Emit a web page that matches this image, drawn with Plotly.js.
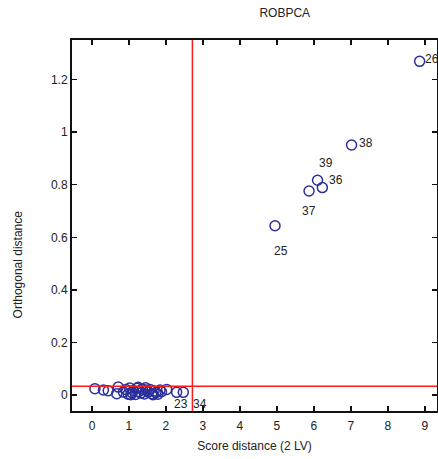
<!DOCTYPE html>
<html>
<head>
<meta charset="utf-8">
<script src="https://cdn.plot.ly/plotly-3.0.1.min.js"></script>
<style>html,body{margin:0;padding:0;background:#fff;}#chart{width:438px;height:459px;}</style>
</head>
<body>
<div id="chart"></div>
<script>
// Score distance (x) and orthogonal distance (y) for each sample
const scoreDist = [0.08, 0.31, 0.44, 0.71, 0.67, 0.85, 0.92, 0.98, 1.02, 1.08, 1.12, 1.18, 1.22, 1.27, 1.32, 1.36, 1.42, 1.47, 1.52, 1.57, 1.62, 1.68, 1.73, 1.78, 1.84, 1.88, 2.02, 1.05, 1.25, 1.45, 1.65, 2.29, 2.47, 4.95, 5.87, 6.23, 6.10, 7.02, 8.86];
const orthDist  = [0.025, 0.020, 0.017, 0.031, 0.006, 0.012, 0.022, 0.004, 0.027, 0.010, 0.018, 0.003, 0.026, 0.014, 0.008, 0.024, 0.005, 0.019, 0.012, 0.022, 0.006, 0.016, 0.010, 0.004, 0.020, 0.013, 0.022, 0.002, 0.030, 0.028, 0.002, 0.011, 0.011, 0.644, 0.776, 0.789, 0.817, 0.951, 1.269];
// Labelled outliers
const labelText = ['23', '34', '25', '37', '36', '39', '38', '26'];
const labelX    = [2.29, 2.47, 4.95, 5.87, 6.23, 6.10, 7.02, 8.86];
const labelY    = [0.011, 0.011, 0.644, 0.776, 0.789, 0.817, 0.951, 1.269];
const labelDx   = [4, 17, 6, 0, 14, 8, 14, 12];
const labelDy   = [-12, -12, -25, -20, 8, 17, 2, 2];
// Cut-off values
const cutoffSD = 2.716;
const cutoffOD = 0.034;

const fontFam = '"Liberation Sans", Arial, Helvetica, sans-serif';

const trace = {
  x: scoreDist, y: orthDist, type: 'scatter', mode: 'markers',
  marker: {symbol: 'circle-open', size: 10, color: '#2b2f9a', line: {width: 1.5, color: '#2b2f9a'}},
  hoverinfo: 'x+y', showlegend: false
};

const annotations = labelText.map((t, i) => ({
  x: labelX[i], y: labelY[i], xref: 'x', yref: 'y', text: t, showarrow: false,
  xshift: labelDx[i], yshift: labelDy[i], xanchor: 'center', yanchor: 'middle',
  font: {family: fontFam, size: 12, color: '#222'}
}));
annotations.push({
  text: 'Orthogonal distance', xref: 'paper', yref: 'paper', x: -0.148, y: 0.395,
  textangle: -90, showarrow: false, xanchor: 'center', yanchor: 'middle',
  font: {family: fontFam, size: 12, color: '#222'}
});

const layout = {
  width: 438, height: 459,
  margin: {l: 72, r: 1, t: 40, b: 48},
  paper_bgcolor: '#fff', plot_bgcolor: '#fff',
  font: {family: fontFam, size: 12, color: '#222'},
  title: {text: 'ROBPCA', x: 0.583, xref: 'paper', xanchor: 'center', y: 0.972, yref: 'container', yanchor: 'middle',
          font: {family: fontFam, size: 12, color: '#222'}},
  xaxis: {
    range: [-0.54, 9.33], tickmode: 'linear', tick0: 0, dtick: 1,
    ticks: 'inside', ticklen: 5, tickwidth: 1.5, tickcolor: '#111',
    showline: true, linecolor: '#111', linewidth: 2, mirror: 'ticks',
    showgrid: false, zeroline: false, automargin: false, ticklabelstandoff: 3,
    title: {text: 'Score distance (2 LV)', standoff: 9, font: {family: fontFam, size: 12, color: '#222'}},
    tickfont: {family: fontFam, size: 12, color: '#222'}
  },
  yaxis: {
    range: [-0.06, 1.35], tickmode: 'linear', tick0: 0, dtick: 0.2,
    ticks: 'inside', ticklen: 5, tickwidth: 1.5, tickcolor: '#111',
    showline: true, linecolor: '#111', linewidth: 2, mirror: 'ticks',
    showgrid: false, zeroline: false, automargin: false,
    tickfont: {family: fontFam, size: 12, color: '#222'}
  },
  shapes: [
    {type: 'line', xref: 'x', yref: 'paper', x0: cutoffSD, x1: cutoffSD, y0: 0, y1: 1, line: {color: '#ff1a1a', width: 1.5}},
    {type: 'line', xref: 'paper', yref: 'y', x0: 0, x1: 1, y0: cutoffOD, y1: cutoffOD, line: {color: '#ff1a1a', width: 1.5}}
  ],
  annotations: annotations
};

Plotly.newPlot('chart', [trace], layout, {displayModeBar: false, staticPlot: true});
</script>
</body>
</html>
